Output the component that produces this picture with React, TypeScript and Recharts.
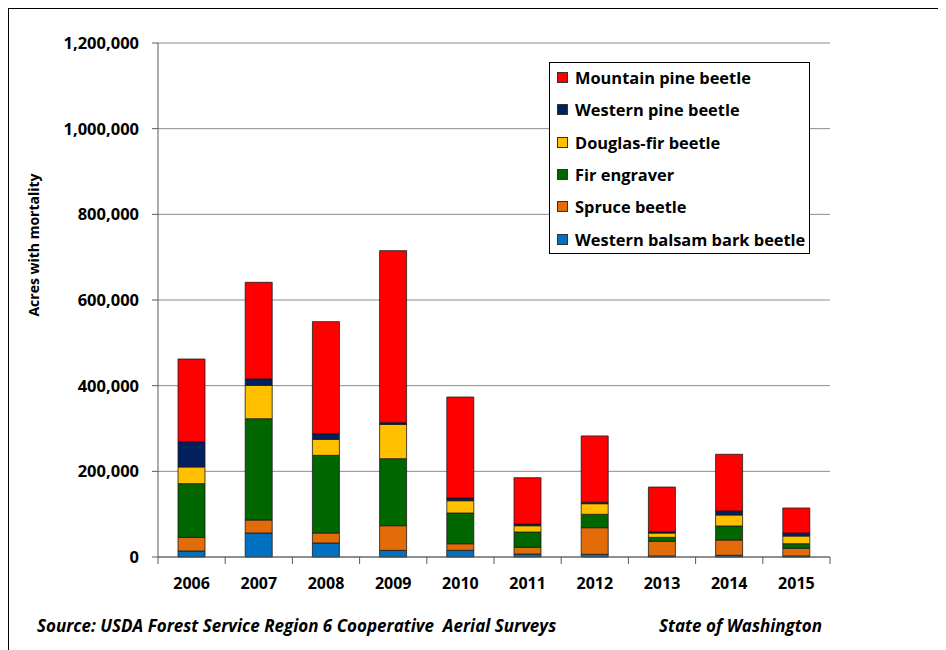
import { BarChart, Bar, XAxis, YAxis, CartesianGrid, Label } from 'recharts'

const years = ['2006', '2007', '2008', '2009', '2010', '2011', '2012', '2013', '2014', '2015']
const balsamBark = [14000, 56000, 32700, 15400, 15600, 7000, 6300, 2300, 4000, 2300]
const spruceBeetle = [31800, 30400, 23400, 57700, 15400, 15600, 62100, 34300, 35700, 18000]
const firEngraver = [125400, 236500, 181200, 156400, 71700, 35700, 31300, 9300, 32700, 10700]
const douglasFir = [39000, 77800, 37400, 80100, 28700, 14700, 24800, 10000, 25700, 18000]
const westernPine = [59000, 15000, 13300, 4000, 6300, 4000, 3300, 3000, 9300, 7000]
const mountainPine = [193000, 225600, 261500, 401600, 235800, 108100, 154800, 104400, 132400, 58400]
const yTicks = [0, 200000, 400000, 600000, 800000, 1000000, 1200000]

// bottom to top in the stack
const series = [
  { key: 'balsam', name: 'Western balsam bark beetle', color: '#0070C0', values: balsamBark },
  { key: 'spruce', name: 'Spruce beetle', color: '#E36C0A', values: spruceBeetle },
  { key: 'fir', name: 'Fir engraver', color: '#006600', values: firEngraver },
  { key: 'douglas', name: 'Douglas-fir beetle', color: '#FFC000', values: douglasFir },
  { key: 'western', name: 'Western pine beetle', color: '#002060', values: westernPine },
  { key: 'mountain', name: 'Mountain pine beetle', color: '#FF0000', values: mountainPine },
]

const data = years.map((year, i) => {
  const row: Record<string, string | number> = { year }
  series.forEach((s) => { row[s.key] = s.values[i] })
  return row
})

const FONT = '"Open Sans", Lato, sans-serif'
const CHART_W = 930
const CHART_H = 600
const MARGIN = { top: 35, right: 108, bottom: 11, left: 0 }
const Y_W = 150
const BAND = (CHART_W - MARGIN.left - MARGIN.right - Y_W) / years.length

function YearTick(props: any) {
  const { x, y, payload, index } = props
  const half = BAND / 2
  return (
    <g>
      <line x1={x - half} x2={x - half} y1={y - 7} y2={y} stroke="#595959" />
      {index === years.length - 1 && (
        <line x1={x + half} x2={x + half} y1={y - 7} y2={y} stroke="#595959" />
      )}
      <text x={x} y={y + 25} textAnchor="middle" fontFamily={FONT} fontWeight={700} fontSize={16} fill="#000">
        {payload.value}
      </text>
    </g>
  )
}

function LegendBox() {
  const items = [...series].reverse()
  return (
    <div style={{ position: 'absolute', left: 541, top: 54, border: '1px solid #000', background: '#fff', width: 259, height: 190, fontFamily: FONT }}>
      <div style={{ position: 'relative', top: -1.5 }}>
        {items.map((it) => (
          <div key={it.key} style={{ height: 32.3, display: 'flex', alignItems: 'center' }}>
            <span style={{ width: 9, height: 9, marginLeft: 7, marginRight: 7, background: it.color, border: '0.5px solid #333' }} />
            <span style={{ fontSize: 16.4, fontWeight: 700, color: '#000' }}>{it.name}</span>
          </div>
        ))}
      </div>
    </div>
  )
}

export default function App() {
  return (
    <div style={{ position: 'relative', width: 938, height: 642 }}>
      <div style={{ position: 'absolute', left: 0, top: 0, width: 937, height: 641, borderLeft: '1px solid #000', borderTop: '1px solid #000' }} />
      <BarChart width={CHART_W} height={CHART_H} data={data} margin={MARGIN} barSize={27}>
        <CartesianGrid vertical={false} stroke="#8c8c8c" />
        <XAxis
          dataKey="year"
          tickLine={false}
          tickSize={7}
          tickMargin={0}
          axisLine={{ stroke: '#595959' }}
          tick={<YearTick />}
          interval={0}
          height={40}
        />
        <YAxis
          width={Y_W}
          domain={[0, 1200000]}
          ticks={yTicks}
          interval={0}
          tickSize={6}
          tickMargin={13}
          tickLine={{ stroke: '#595959' }}
          axisLine={{ stroke: '#595959' }}
          tickFormatter={(v: number) => v.toLocaleString('en-US')}
          tick={{ fontFamily: FONT, fontWeight: 700, fontSize: 16.5, fill: '#000' }}
        >
          <Label
            content={() => (
              <text
                x={0}
                y={0}
                transform="translate(27 237) rotate(-90)"
                textAnchor="middle"
                dominantBaseline="middle"
                fontFamily={FONT}
                fontWeight={700}
                fontSize={14}
                fill="#000"
              >
                Acres with mortality
              </text>
            )}
          />
        </YAxis>
        <YAxis yAxisId="right" orientation="right" width={0} domain={[0, 1200000]} tick={false} tickLine={false} axisLine={{ stroke: '#595959' }} />
        {series.map((s) => (
          <Bar
            key={s.key}
            dataKey={s.key}
            name={s.name}
            stackId="a"
            fill={s.color}
            stroke="#1a1a1a"
            strokeWidth={0.8}
            isAnimationActive={false}
          />
        ))}
      </BarChart>
      <LegendBox />
      <div style={{ position: 'absolute', left: 29, top: 606, fontFamily: FONT, fontSize: 17, fontWeight: 700, fontStyle: 'italic', whiteSpace: 'pre', color: '#000' }}>
        {'Source: USDA Forest Service Region 6 Cooperative  Aerial Surveys'}
      </div>
      <div style={{ position: 'absolute', left: 651, top: 606, fontFamily: FONT, fontSize: 17, fontWeight: 700, fontStyle: 'italic', color: '#000' }}>
        State of Washington
      </div>
    </div>
  )
}
